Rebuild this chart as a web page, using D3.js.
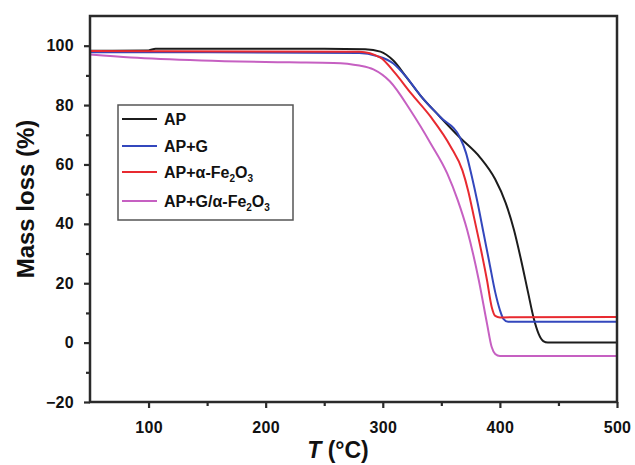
<!DOCTYPE html>
<html><head><meta charset="utf-8">
<script src="https://cdn.jsdelivr.net/npm/d3@7"></script>
<style>body{margin:0;background:#fff}svg{display:block}</style>
</head><body><svg id="c" width="635" height="465"></svg>
<script>
const seriesNames = ["AP", "AP+G", "AP+α-Fe2O3", "AP+G/α-Fe2O3"];
const seriesColors = ["#1c1c1c", "#3347bd", "#e82a30", "#c660c2"];
const apData = [[50,98.3],[100,98.4],[106,99],[250,99],[285,98.8],[298,98],[309,95],[320,89.5],[332,83.3],[349,76],[366,69],[383,62.4],[396,55],[405,47],[412,38],[418,28],[424,17],[429,8],[433,3],[437,0.5],[441,0],[500,0]];
const apgData = [[50,97.8],[150,97.8],[280,97.5],[295,96.5],[309,94],[320,89.5],[332,83.3],[349,76],[366,69],[371,64],[376,56],[381,47],[386,37],[391,27],[396,17],[400,11],[403,8],[407,7],[500,7]];
const apfeData = [[50,98.2],[280,98],[298,96],[310,91],[324,84],[341,76],[358,66],[368,58],[373,51],[378,42],[384,31],[389,21],[393,12],[396,9],[400,8.5],[500,8.6]];
const apgfeData = [[50,97],[85,96],[145,95],[220,94.4],[258,94.2],[280,93.3],[292,92],[306,88],[324,78],[341,67],[355,57],[364,48],[372,38],[382,21],[389,6.4],[393,-1.5],[396,-3.8],[400,-4.5],[500,-4.5]];
const xMajor = [100, 200, 300, 400, 500];
const xMinor = [150, 250, 350, 450];
const yMajor = [-20, 0, 20, 40, 60, 80, 100];
const yMinor = [-10, 10, 30, 50, 70, 90];

const allData = [apData, apgData, apfeData, apgfeData];
const svg = d3.select("#c");
const L = 90, T = 16, R = 617, B = 402;
const x = d3.scaleLinear().domain([50, 500]).range([L, R]);
const y = d3.scaleLinear().domain([-20, 110]).range([B, T]);
const font = "'Liberation Sans', Arial, sans-serif";

// curves
const line = d3.line().x(d => x(d[0])).y(d => y(d[1])).curve(d3.curveMonotoneX);
allData.forEach((d, i) => {
  svg.append("path").attr("d", line(d)).attr("fill", "none")
    .attr("stroke", seriesColors[i]).attr("stroke-width", 2);
});

// frame
svg.append("rect").attr("x", L).attr("y", T).attr("width", R - L).attr("height", B - T)
  .attr("fill", "none").attr("stroke", "#2a2a2a").attr("stroke-width", 2.5);

// axes
const xAx = svg.append("g").attr("transform", `translate(0,${B})`)
  .call(d3.axisBottom(x).tickValues(xMajor).tickSize(6).tickPadding(14).tickFormat(d3.format("d")));
const xAxMin = svg.append("g").attr("transform", `translate(0,${B})`)
  .call(d3.axisBottom(x).tickValues(xMinor).tickSize(4).tickFormat(""));
const yAx = svg.append("g").attr("transform", `translate(${L},0)`)
  .call(d3.axisLeft(y).tickValues(yMajor).tickSize(6).tickPadding(10).tickFormat(d3.format("d")));
const yAxMin = svg.append("g").attr("transform", `translate(${L},0)`)
  .call(d3.axisLeft(y).tickValues(yMinor).tickSize(4).tickFormat(""));
[xAx, xAxMin, yAx, yAxMin].forEach(g => {
  g.select(".domain").remove();
  g.selectAll("line").attr("stroke", "#2a2a2a").attr("stroke-width", 2.2);
  g.selectAll("text").attr("font-family", font).attr("font-weight", "bold")
    .attr("font-size", 16).attr("fill", "#111").attr("letter-spacing", "0.3px");
});

// axis titles
svg.append("text").attr("x", 338).attr("y", 458).attr("text-anchor", "middle")
  .attr("font-family", font).attr("font-weight", "bold").attr("font-size", 23).attr("fill", "#111")
  .call(t => { t.append("tspan").attr("font-style", "italic").text("T"); t.append("tspan").text(" (°C)"); });
svg.append("text").attr("transform", `translate(34,${(T + B) / 2 - 10}) rotate(-90)`).attr("text-anchor", "middle")
  .attr("font-family", font).attr("font-weight", "bold").attr("font-size", 24).attr("fill", "#111")
  .text("Mass loss (%)");

// legend
const lg = svg.append("g");
lg.append("rect").attr("x", 118).attr("y", 105).attr("width", 175).attr("height", 115)
  .attr("fill", "#fff").attr("stroke", "#555").attr("stroke-width", 1.5);
const legY = [119, 146, 172, 201];
seriesNames.forEach((n, i) => {
  lg.append("line").attr("x1", 122).attr("x2", 157).attr("y1", legY[i]).attr("y2", legY[i])
    .attr("stroke", seriesColors[i]).attr("stroke-width", 2);
  const t = lg.append("text").attr("x", 164).attr("y", legY[i] + 6)
    .attr("font-family", font).attr("font-weight", "bold").attr("font-size", 16).attr("fill", "#111");
  const m = n.match(/^(.*?)Fe2O3$/);
  if (m) {
    t.append("tspan").text(m[1] + "Fe");
    t.append("tspan").attr("font-size", 10).attr("dy", 4).text("2");
    t.append("tspan").attr("dy", -4).text("O");
    t.append("tspan").attr("font-size", 10).attr("dy", 4).text("3");
  } else {
    t.text(n);
  }
});
</script></body></html>
